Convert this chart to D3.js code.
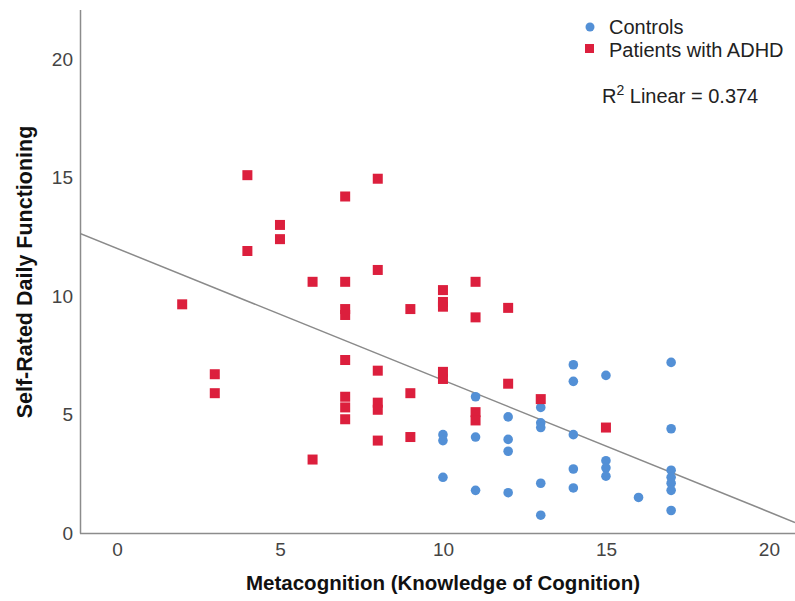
<!DOCTYPE html>
<html><head><meta charset="utf-8">
<script src="https://cdn.jsdelivr.net/npm/d3@7/dist/d3.min.js"></script>
<style>body{margin:0;background:#fff}svg{display:block}text{font-family:"Liberation Sans",Arial,sans-serif}</style>
</head><body><svg id="c" width="795" height="601"></svg>
<script>
// Controls (x = metacognition, y = self-rated daily functioning)
const controlsX = [10,10,10, 11,11,11, 12,12,12,12, 13,13,13,13,13, 14,14,14,14,14, 15,15,15,15, 16, 17,17,17,17,17,17,17];
const controlsY = [4.15,3.9,2.35, 5.75,4.05,1.8, 4.9,3.95,3.45,1.7, 5.3,4.65,4.45,2.1,0.75, 7.1,6.4,4.15,2.7,1.9, 6.65,3.05,2.75,2.4, 1.5, 7.2,4.4,2.65,2.35,2.1,1.8,0.95];
// Patients with ADHD
const adhdX = [2, 3,3, 4,4, 5,5, 6,6, 7,7,7,7,7,7,7,7, 8,8,8,8,8,8, 9,9,9, 10,10,10,10,10, 11,11,11,11, 12,12, 13, 15];
const adhdY = [9.65, 6.7,5.9, 15.1,11.9, 13.0,12.4, 10.6,3.1, 14.2,10.6,9.45,9.2,7.3,5.75,5.3,4.8, 14.95,11.1,6.85,5.5,5.2,3.9, 9.45,5.9,4.05, 10.25,9.75,9.55,6.8,6.5, 10.6,9.1,5.1,4.75, 9.5,6.3, 5.65, 4.45];
const xTicks = [0,5,10,15,20];
const yTicks = [0,5,10,15,20];
const fitIntercept = 12.01, fitSlope = -0.556;
const r2Text = "0.374";

const svg = d3.select("#c");
const x = d3.scaleLinear().domain([-1.135, 20.8]).range([80, 795]);
const y = d3.scaleLinear().domain([0, 22.07]).range([533, 10]);

// axes lines
const axisCol = "#8c8c8c";
svg.append("line").attr("x1",80).attr("x2",795).attr("y1",533.5).attr("y2",533.5).attr("stroke",axisCol).attr("stroke-width",1.5);
svg.append("line").attr("x1",80.5).attr("x2",80.5).attr("y1",10).attr("y2",533.5).attr("stroke",axisCol).attr("stroke-width",1.5);

const xAxis = d3.axisBottom(x).tickValues(xTicks).tickSize(0).tickPadding(9);
const gx = svg.append("g").attr("transform","translate(0,534)").call(xAxis);
gx.select(".domain").remove();
gx.selectAll("text").attr("font-size",19).attr("fill","#444").attr("font-family","Liberation Sans, Arial, sans-serif");

const yAxis = d3.axisLeft(y).tickValues(yTicks).tickSize(0).tickPadding(7);
const gy = svg.append("g").attr("transform","translate(80,0)").call(yAxis);
gy.select(".domain").remove();
gy.selectAll("text").attr("font-size",19).attr("fill","#444").attr("font-family","Liberation Sans, Arial, sans-serif");

// regression line (clipped to plot)
svg.append("clipPath").attr("id","clip").append("rect").attr("x",80).attr("y",10).attr("width",715).attr("height",523);
const [x0, x1] = x.domain();
svg.append("line").attr("clip-path","url(#clip)")
  .attr("x1", x(x0)).attr("y1", y(fitIntercept + fitSlope*x0))
  .attr("x2", x(x1)).attr("y2", y(fitIntercept + fitSlope*x1))
  .attr("stroke","#8a8a8a").attr("stroke-width",1.5);

const blue = "#5390d6", red = "#dc1f3d";
const controls = controlsX.map((v,i)=>({x:v,y:controlsY[i]}));
const adhd = adhdX.map((v,i)=>({x:v,y:adhdY[i]}));

svg.append("g").selectAll("circle").data(controls).join("circle")
  .attr("cx",d=>x(d.x)).attr("cy",d=>y(d.y)).attr("r",4.8).attr("fill",blue);
svg.append("g").selectAll("rect").data(adhd).join("rect")
  .attr("x",d=>x(d.x)-5).attr("y",d=>y(d.y)-5).attr("width",10).attr("height",10).attr("fill",red);

// axis titles
svg.append("text").attr("x",443).attr("y",590).attr("text-anchor","middle").attr("font-size",20.5).attr("font-weight","bold").attr("fill","#111").text("Metacognition (Knowledge of Cognition)");
svg.append("text").attr("transform","translate(32,272) rotate(-90)").attr("text-anchor","middle").attr("font-size",21.5).attr("font-weight","bold").attr("fill","#111").text("Self-Rated Daily Functioning");

// legend
const lg = svg.append("g");
lg.append("circle").attr("cx",590).attr("cy",27).attr("r",4.5).attr("fill",blue);
lg.append("text").attr("x",609).attr("y",34).attr("font-size",20).attr("fill","#222").text("Controls");
lg.append("rect").attr("x",585).attr("y",44).attr("width",9).attr("height",9).attr("fill",red);
lg.append("text").attr("x",609).attr("y",57).attr("font-size",20).attr("fill","#222").text("Patients with ADHD");
const rt = lg.append("text").attr("x",602).attr("y",103).attr("font-size",20).attr("fill","#222");
rt.append("tspan").text("R");
rt.append("tspan").attr("dy",-8).attr("font-size",14).text("2");
rt.append("tspan").attr("dy",8).text(" Linear = " + r2Text);
</script></body></html>
